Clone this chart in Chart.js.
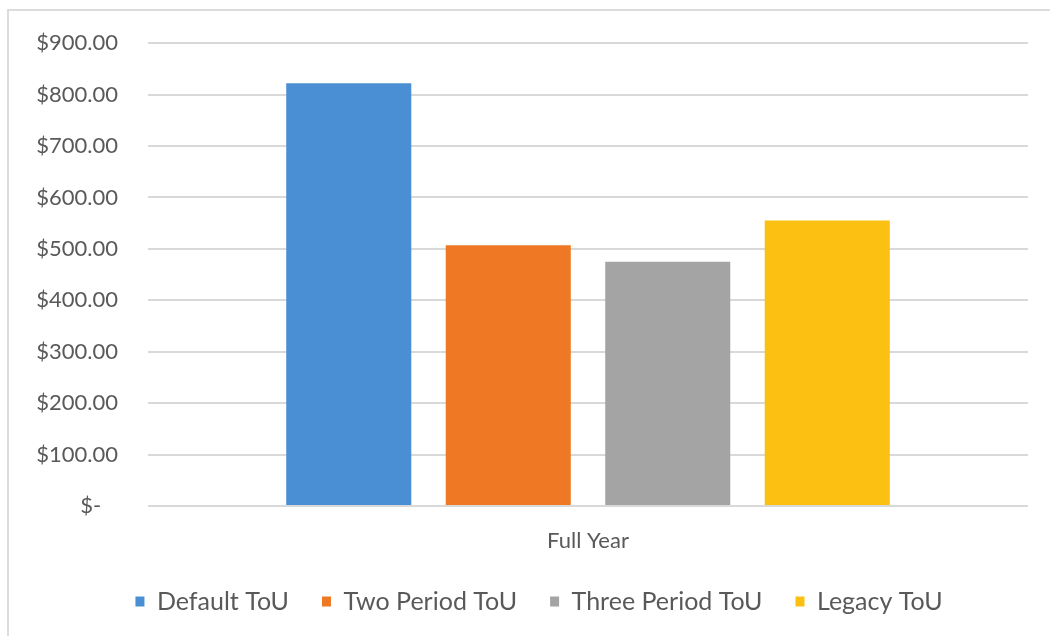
<!DOCTYPE html>
<html>
<head>
<meta charset="utf-8">
<script src="https://cdn.jsdelivr.net/npm/chart.js@4/dist/chart.umd.min.js"></script>
<style>
  html, body { margin: 0; padding: 0; background: #fff; }
  #frame {
    position: absolute; left: 7px; top: 9px; width: 1100px; height: 700px;
    border-left: 2px solid #dcdcdc; border-top: 2px solid #dcdcdc;
  }
  #wrap { position: absolute; left: 0; top: 0; width: 1050px; height: 636px; }
</style>
</head>
<body>
<div id="frame"></div>
<div id="wrap"><canvas id="cost-chart" width="1050" height="636"></canvas></div>
<script>
var categories = ['Full Year'];
var seriesNames = ['Default ToU', 'Two Period ToU', 'Three Period ToU', 'Legacy ToU'];
var seriesValues = [[822], [507], [475], [555]];
var seriesColors = ['#4a8fd3', '#ee7823', '#a4a4a4', '#fcc012'];
var yTicks = [0, 100, 200, 300, 400, 500, 600, 700, 800, 900];

var textColor = '#595959';
Chart.defaults.font.family = 'Lato, "Open Sans", sans-serif';
Chart.defaults.font.size = 22;
Chart.defaults.color = textColor;

function money(v) {
  if (v === 0) return '$-   ';
  return '$' + v.toFixed(2);
}

var datasets = seriesNames.map(function(name, i) {
  return {
    label: name,
    data: seriesValues[i],
    backgroundColor: seriesColors[i],
    borderWidth: 0,
    categoryPercentage: 0.725,
    barPercentage: 0.784
  };
});

// nudge the legend row a little to the right
var legendShift = {
  id: 'legendShift',
  afterLayout: function(chart) {
    chart.legend.left += 15;
    chart.legend.right += 15;
  }
};

var ctx = document.getElementById('cost-chart').getContext('2d');
new Chart(ctx, {
  type: 'bar',
  data: { labels: categories, datasets: datasets },
  plugins: [legendShift],
  options: {
    responsive: false,
    animation: false,
    layout: { padding: { left: 20, right: 22, top: 30, bottom: 12 } },
    scales: {
      x: {
        grid: { display: false },
        border: { display: false },
        ticks: { padding: 14 },
        afterFit: function(scale) { scale.height = 50; }
      },
      y: {
        min: 0,
        max: 900,
        afterBuildTicks: function(scale) {
          scale.ticks = yTicks.map(function(v) { return { value: v }; });
        },
        afterFit: function(scale) { scale.width = 128; },
        grid: { color: '#d9d9d9', lineWidth: 2, drawTicks: false },
        border: { display: false },
        ticks: { padding: 30, callback: function(v) { return money(v); } }
      }
    },
    plugins: {
      legend: {
        position: 'bottom',
        labels: { boxWidth: 9, boxHeight: 10, padding: 33, color: textColor, font: { size: 25 } }
      },
      tooltip: { enabled: false }
    }
  }
});
</script>
</body>
</html>
